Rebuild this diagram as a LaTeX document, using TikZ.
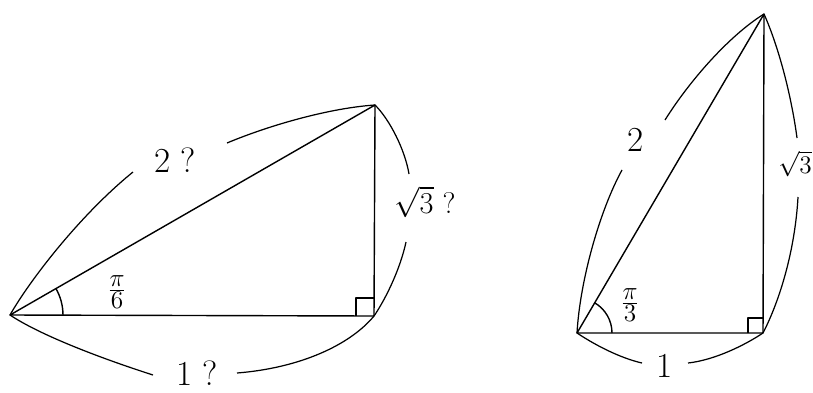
\documentclass[tikz,border=0pt]{standalone}
\usepackage{amsmath}
\usetikzlibrary{calc}

\begin{document}
\begin{tikzpicture}[x=0.02cm,y=-0.02cm,
    edge/.style={line width=0.8pt,line join=round},
    brace/.style={line width=0.7pt},
    lbl/.style={inner sep=0pt,font=\fontsize{20}{24}\selectfont},
    rootlbl/.style={inner sep=0pt,font=\fontsize{17}{20}\selectfont},
    fraclbl/.style={inner sep=0pt,font=\fontsize{19}{22}\selectfont}
  ]
    \useasboundingbox (0,0) rectangle (813,392);
    % left triangle
    \coordinate (A) at (10,315);
    \coordinate (B) at (374,316);
    \coordinate (C) at (375,105);
    \draw[edge] (A) -- (B) -- (C) -- cycle;
    \draw[edge] (B) ++(-18,0) -- ++(0,-18) -- ++(18,0);
    \draw[edge] ([xshift=1.06cm]A) arc[start angle=0,end angle=30,radius=1.06cm];
    \node[fraclbl] (angL) at (117,292) {$\frac{\pi}{6}$};
    \node[lbl] (hypL) at (175,160) {2 ?};
    \node[rootlbl] (vertL) at (425,202) {$\sqrt{3}$ ?};
    \node[lbl] (baseL) at (197,373) {1 ?};
    \coordinate (hypLa) at (133,172);
    \coordinate (hypLb) at (227,143);
    \coordinate (vertLa) at (409,174);
    \coordinate (vertLb) at (406,242);
    \coordinate (baseLa) at (153,375);
    \coordinate (baseLb) at (237,373);
    \draw[brace] (A) .. controls (30,280) and (80,215) .. (hypLa);
    \draw[brace] (hypLb) .. controls (270,125) and (330,108) .. (C);
    \draw[brace] (C) .. controls (390,120) and (405,150) .. (vertLa);
    \draw[brace] (vertLb) .. controls (400,270) and (385,300) .. (B);
    \draw[brace] (A) .. controls (40,335) and (100,358) .. (baseLa);
    \draw[brace] (baseLb) .. controls (300,368) and (350,345) .. (B);
    % right triangle
    \coordinate (P) at (577,333);
    \coordinate (Q) at (763,333);
    \coordinate (R) at (764,14);
    \draw[edge] (P) -- (Q) -- (R) -- cycle;
    \draw[edge] (Q) ++(-15,0) -- ++(0,-15) -- ++(15,0);
    \draw[edge] ([xshift=0.7cm]P) arc[start angle=0,end angle=60,radius=0.7cm];
    \node[fraclbl] (angR) at (630,305) {$\frac{\pi}{3}$};
    \node[lbl] (hypR) at (636,140) {2};
    \node[rootlbl,font=\fontsize{15}{18}\selectfont] (vertR) at (795,164) {$\sqrt{3}$};
    \node[lbl] (baseR) at (665,366) {1};
    \coordinate (hypRa) at (622,170);
    \coordinate (hypRb) at (665,120);
    \coordinate (vertRa) at (797,138);
    \coordinate (vertRb) at (798,197);
    \coordinate (baseRa) at (642,363);
    \coordinate (baseRb) at (688,363);
    \draw[brace] (P) .. controls (580,280) and (600,210) .. (hypRa);
    \draw[brace] (hypRb) .. controls (690,80) and (730,35) .. (R);
    \draw[brace] (R) .. controls (780,50) and (792,100) .. (vertRa);
    \draw[brace] (vertRb) .. controls (795,250) and (780,300) .. (Q);
    \draw[brace] (P) .. controls (595,345) and (620,358) .. (baseRa);
    \draw[brace] (baseRb) .. controls (715,360) and (745,345) .. (Q);
\end{tikzpicture}
\end{document}
